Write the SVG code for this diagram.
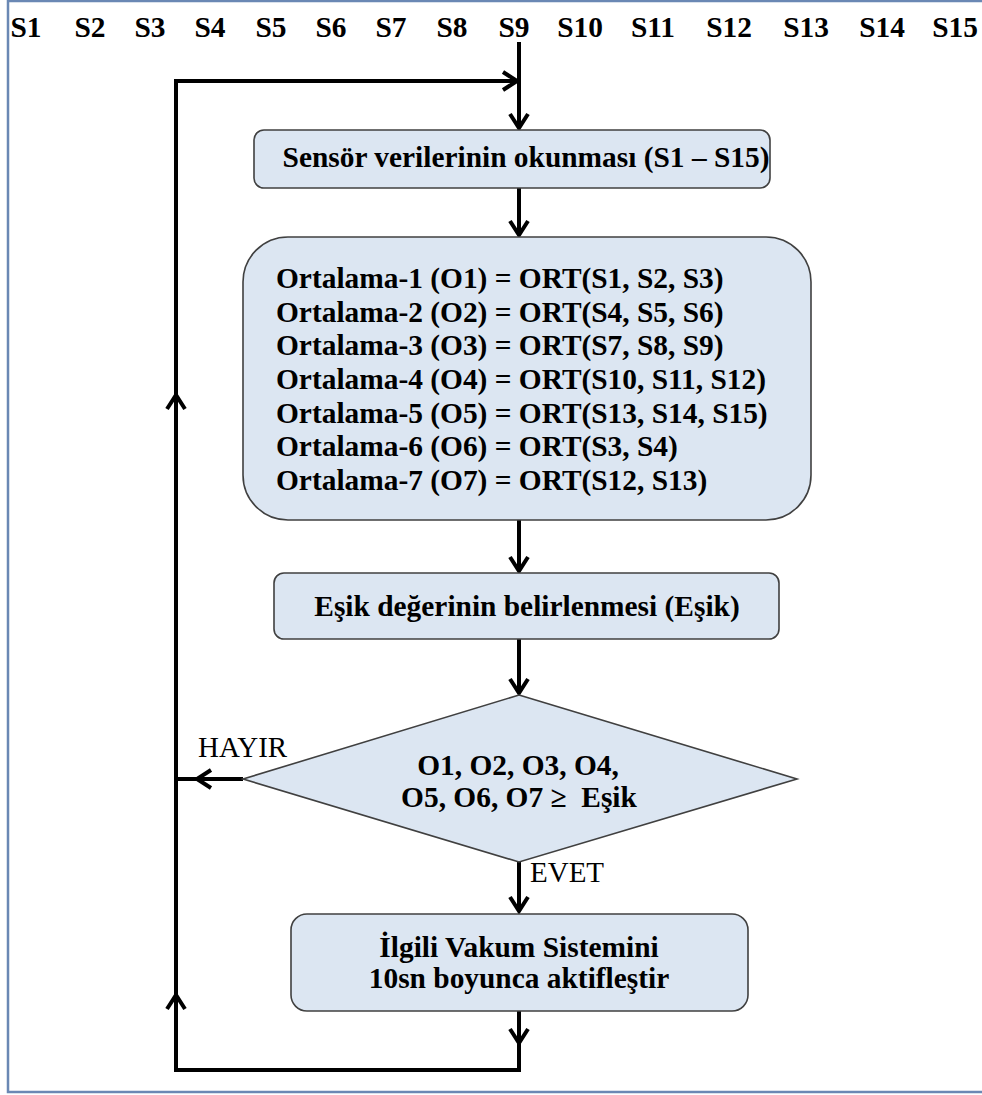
<svg xmlns="http://www.w3.org/2000/svg" width="982" height="1095" viewBox="0 0 982 1095">
<style>
.frame{fill:#ffffff;stroke:#6a88b4;stroke-width:2.5}
.box{fill:#dce6f2;stroke:#404040;stroke-width:1.6}
.t{font-family:"Liberation Serif","Times New Roman",serif;font-size:29.4px;font-weight:bold;fill:#000}
.r{font-family:"Liberation Serif","Times New Roman",serif;font-size:29px;fill:#000}
.c{text-anchor:middle}
.ln{fill:none;stroke:#000;stroke-width:4}
.chev{fill:none;stroke:#000;stroke-width:4;stroke-linejoin:miter}
</style>
<defs>
<path id="chev" class="chev" d="M-9,-14 L0,0 L9,-14"/>
</defs>
<rect class="frame" x="8" y="1" width="990" height="1091"/>
<g id="sensor-labels">
<text class="t c" x="26" y="37">S1</text>
<text class="t c" x="90" y="37">S2</text>
<text class="t c" x="150" y="37">S3</text>
<text class="t c" x="210" y="37">S4</text>
<text class="t c" x="271" y="37">S5</text>
<text class="t c" x="331" y="37">S6</text>
<text class="t c" x="391" y="37">S7</text>
<text class="t c" x="452" y="37">S8</text>
<text class="t c" x="514" y="37">S9</text>
<text class="t c" x="580" y="37">S10</text>
<text class="t c" x="653" y="37">S11</text>
<text class="t c" x="729" y="37">S12</text>
<text class="t c" x="806" y="37">S13</text>
<text class="t c" x="882" y="37">S14</text>
<text class="t c" x="955" y="37">S15</text>
</g>
<g id="connectors">
<path class="ln" d="M519,42 V128"/>
<use href="#chev" x="519" y="128"/>
<path class="ln" d="M176,1070 V81 H517"/>
<use href="#chev" transform="translate(517,81) rotate(-90)"/>
<path class="ln" d="M519,188 V235"/>
<use href="#chev" x="519" y="235"/>
<path class="ln" d="M519,520 V571"/>
<use href="#chev" x="519" y="571"/>
<path class="ln" d="M519,639 V693"/>
<use href="#chev" x="519" y="693"/>
<path class="ln" d="M243,779 H176"/>
<use href="#chev" transform="translate(197,779) rotate(90)"/>
<path class="ln" d="M519,862 V911"/>
<use href="#chev" x="519" y="911"/>
<path class="ln" d="M519,1011 V1070 H174"/>
<use href="#chev" x="519" y="1043"/>
<use href="#chev" transform="translate(176,395) rotate(180)"/>
<use href="#chev" transform="translate(176,995) rotate(180)"/>
<text class="r" x="198" y="757">HAYIR</text>
<text class="r" x="530" y="882">EVET</text>
</g>
<g id="read-sensors">
<rect class="box" x="254" y="130" width="516" height="58" rx="10"/>
<text class="t c" x="526" y="167">Sensör verilerinin okunması (S1 – S15)</text>
</g>
<g id="averages">
<rect class="box" x="243" y="237" width="568" height="283" rx="45"/>
<text class="t" x="276" y="288">Ortalama-1 (O1) = ORT(S1, S2, S3)</text>
<text class="t" x="276" y="321.7">Ortalama-2 (O2) = ORT(S4, S5, S6)</text>
<text class="t" x="276" y="355.3">Ortalama-3 (O3) = ORT(S7, S8, S9)</text>
<text class="t" x="276" y="389">Ortalama-4 (O4) = ORT(S10, S11, S12)</text>
<text class="t" x="276" y="422.7">Ortalama-5 (O5) = ORT(S13, S14, S15)</text>
<text class="t" x="276" y="456.3">Ortalama-6 (O6) = ORT(S3, S4)</text>
<text class="t" x="276" y="490">Ortalama-7 (O7) = ORT(S12, S13)</text>
</g>
<g id="threshold">
<rect class="box" x="274" y="573" width="505" height="66" rx="10"/>
<text class="t c" x="527" y="616">Eşik değerinin belirlenmesi (Eşik)</text>
</g>
<g id="decision">
<polygon class="box" points="519,695 797,779 519,862 243,779"/>
<text class="t c" x="518" y="775">O1, O2, O3, O4,</text>
<text class="t c" x="519" y="807">O5, O6, O7 ≥&#160; Eşik</text>
</g>
<g id="activate">
<rect class="box" x="291" y="914" width="457" height="97" rx="16"/>
<text class="t c" x="519" y="957">İlgili Vakum Sistemini</text>
<text class="t c" x="519" y="988">10sn boyunca aktifleştir</text>
</g>
</svg>
